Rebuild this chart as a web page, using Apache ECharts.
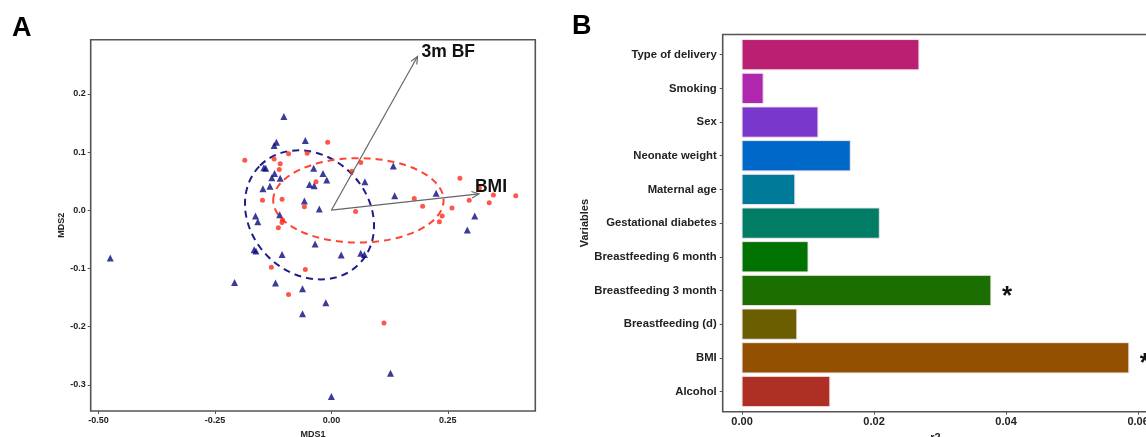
<!DOCTYPE html>
<html>
<head>
<meta charset="utf-8">
<script src="https://cdn.jsdelivr.net/npm/echarts@6/dist/echarts.min.js"></script>
<style>
  html, body { margin: 0; padding: 0; background: #fff; }
  #chart { width: 1146px; height: 437px; }
</style>
</head>
<body>
<div id="chart"></div>
<script>
// ---- Panel A: MDS ordination of samples ----
const groupTriangle = [
  [-0.475, -0.082], [-0.102, 0.161], [-0.056, 0.120], [-0.118, 0.117], [-0.123, 0.111],
  [-0.141, 0.072], [-0.145, 0.073], [-0.122, 0.063], [-0.128, 0.056], [-0.110, 0.055],
  [-0.147, 0.037], [-0.132, 0.041], [-0.038, 0.072], [-0.018, 0.063], [-0.010, 0.052],
  [-0.047, 0.044], [-0.037, 0.042], [-0.058, 0.016], [-0.026, 0.002], [0.072, 0.049],
  [0.133, 0.076], [0.136, 0.025], [0.225, 0.029], [0.308, -0.010], [0.292, -0.034],
  [-0.163, -0.010], [-0.158, -0.020], [-0.111, -0.008], [-0.166, -0.068], [-0.162, -0.070],
  [-0.106, -0.076], [-0.035, -0.058], [0.021, -0.077], [0.063, -0.074], [0.071, -0.076],
  [-0.208, -0.124], [-0.120, -0.125], [-0.062, -0.135], [-0.012, -0.159], [-0.062, -0.178],
  [0.127, -0.280], [0.000, -0.320]
];
const groupCircle = [
  [-0.186, 0.086], [-0.123, 0.088], [-0.092, 0.097], [-0.052, 0.098], [-0.008, 0.117],
  [-0.110, 0.080], [-0.112, 0.070], [0.063, 0.082], [0.044, 0.067], [-0.033, 0.049],
  [-0.148, 0.017], [-0.106, 0.019], [-0.058, 0.006], [0.052, -0.002], [-0.105, -0.017],
  [-0.106, -0.021], [-0.114, -0.030], [-0.129, -0.098], [-0.056, -0.102], [-0.092, -0.145],
  [0.113, -0.194], [0.178, 0.020], [0.196, 0.007], [0.238, -0.010], [0.232, -0.020],
  [0.259, 0.004], [0.276, 0.055], [0.296, 0.017], [0.318, 0.038], [0.339, 0.013],
  [0.348, 0.026], [0.396, 0.025]
];
// confidence ellipses: centre, semi-axes (data units), tilt in degrees
const ellipseCenters = [[-0.047, -0.008], [0.058, 0.017]];
const ellipseRadii = [[0.150, 0.101], [0.183, 0.0725]];
const ellipseTilt = [-45, 0];
// fitted environmental vectors
const vectorNames = ['3m BF', 'BMI'];
const vectorEnds = [[0.185, 0.264], [0.317, 0.028]];
const mdsTicksX = [-0.5, -0.25, 0, 0.25];
const mdsTicksY = [-0.3, -0.2, -0.1, 0, 0.1, 0.2];

// ---- Panel B: variance explained by each variable ----
const variables = [
  'Type of delivery', 'Smoking', 'Sex', 'Neonate weight', 'Maternal age',
  'Gestational diabetes', 'Breastfeeding 6 month', 'Breastfeeding 3 month',
  'Breastfeeding (d)', 'BMI', 'Alcohol'
];
const r2Values = [0.0268, 0.0032, 0.0115, 0.0164, 0.0080, 0.0208, 0.0100, 0.0377, 0.0083, 0.0586, 0.0133];
const significant = [false, false, false, false, false, false, false, true, false, true, false];
const r2Ticks = [0, 0.02, 0.04, 0.06];

// styling
const barColors = ['#BA1F72', '#AF27AF', '#7937CB', '#0068C8', '#007A99', '#007D64',
                   '#007300', '#1B6E00', '#6A5E00', '#924F00', '#AE3025'];
const ellipseColors = ['#1E1E8A', '#FF4433'];
const FONT = '"Liberation Sans", Arial, sans-serif';
const labelOffsets = [[4, -4], [-4, -7]];

const chart = echarts.init(document.getElementById('chart'), null, { renderer: 'canvas' });

const tickLabel = (size) => ({ fontFamily: FONT, fontWeight: 'bold', fontSize: size, color: '#222' });
const hiddenLine = { show: false, onZero: false };

chart.setOption({
  animation: false,
  backgroundColor: '#fff',
  graphic: [
    { type: 'text', left: 12, top: 15, style: { text: 'A', font: 'bold 27px ' + FONT, fill: '#000' } },
    { type: 'text', left: 572, top: 13, style: { text: 'B', font: 'bold 27px ' + FONT, fill: '#000' } }
  ],
  grid: [
    { left: 90.7, top: 39.7, width: 444.6, height: 371.3, show: true, outerBoundsMode: 'none',
      borderColor: '#555', borderWidth: 1.6, backgroundColor: '#fff' },
    { left: 722.7, top: 34.5, width: 425.3, height: 377.2, show: true, outerBoundsMode: 'none',
      borderColor: '#555', borderWidth: 1.6, backgroundColor: '#fff' }
  ],
  xAxis: [
    { type: 'value', gridIndex: 0, min: -0.517, max: 0.438,
      name: 'MDS1', nameLocation: 'middle', nameGap: 15,
      nameTextStyle: tickLabel(9),
      axisLine: hiddenLine, splitLine: { show: false },
      axisTick: { show: true, length: 3, customValues: mdsTicksX, lineStyle: { color: '#555' } },
      axisLabel: { customValues: mdsTicksX, margin: 5, ...tickLabel(9), formatter: v => v.toFixed(2) } },
    { type: 'value', gridIndex: 1, min: -0.00293, max: 0.0615,
      name: 'r2', nameLocation: 'middle', nameGap: 19,
      nameTextStyle: tickLabel(11),
      axisLine: hiddenLine, splitLine: { show: false },
      axisTick: { show: true, length: 3, customValues: r2Ticks, lineStyle: { color: '#555' } },
      axisLabel: { customValues: r2Ticks, margin: 5, ...tickLabel(11), formatter: v => v.toFixed(2) } }
  ],
  yAxis: [
    { type: 'value', gridIndex: 0, min: -0.345, max: 0.293,
      name: 'MDS2', nameLocation: 'middle', nameGap: 23, nameRotate: 90,
      nameTextStyle: tickLabel(9),
      axisLine: hiddenLine, splitLine: { show: false },
      axisTick: { show: true, length: 3, customValues: mdsTicksY, lineStyle: { color: '#555' } },
      axisLabel: { customValues: mdsTicksY, margin: 5, ...tickLabel(9), formatter: v => v.toFixed(1) } },
    { type: 'value', gridIndex: 1, min: 0.4, max: 11.6, inverse: true,
      name: 'Variables', nameLocation: 'middle', nameGap: 132, nameRotate: 90,
      nameTextStyle: tickLabel(11),
      axisLine: hiddenLine, splitLine: { show: false },
      axisTick: { show: true, length: 3, customValues: variables.map((_, i) => i + 1), lineStyle: { color: '#555' } },
      axisLabel: { customValues: variables.map((_, i) => i + 1), margin: 6, ...tickLabel(11.3),
                   formatter: v => variables[Math.round(v) - 1] } }
  ],
  series: [
    // dashed group ellipses
    {
      type: 'custom', xAxisIndex: 0, yAxisIndex: 0, z: 2,
      data: ellipseCenters.map((c, i) => [c[0], c[1], ellipseRadii[i][0], ellipseRadii[i][1], ellipseTilt[i]]),
      encode: { x: 0, y: 1 },
      renderItem: (params, api) => {
        const c = api.coord([api.value(0), api.value(1)]);
        const rx = api.size([api.value(2), 0])[0];
        const ry = api.size([0, api.value(3)])[1];
        return {
          type: 'ellipse',
          x: c[0], y: c[1],
          rotation: api.value(4) * Math.PI / 180,
          shape: { cx: 0, cy: 0, rx: rx, ry: ry },
          style: { fill: 'none', stroke: ellipseColors[params.dataIndex], lineWidth: 2, lineDash: [7, 5] }
        };
      }
    },
    {
      type: 'scatter', xAxisIndex: 0, yAxisIndex: 0, z: 3,
      symbol: 'triangle', symbolSize: 7,
      itemStyle: { color: '#0A0A7E' },
      data: groupTriangle
    },
    {
      type: 'scatter', xAxisIndex: 0, yAxisIndex: 0, z: 3,
      symbol: 'circle', symbolSize: 5,
      itemStyle: { color: '#FF2C1C' },
      data: groupCircle
    },
    // vectors from the origin with open arrow heads
    {
      type: 'custom', xAxisIndex: 0, yAxisIndex: 0, z: 4,
      data: vectorEnds,
      encode: { x: 0, y: 1 },
      renderItem: (params, api) => {
        const o = api.coord([0, 0]);
        const t = api.coord([api.value(0), api.value(1)]);
        const a = Math.atan2(t[1] - o[1], t[0] - o[0]);
        const L = 8, w = 0.42;
        const off = labelOffsets[params.dataIndex];
        const stroke = { stroke: '#666', lineWidth: 1.2, fill: 'none' };
        return {
          type: 'group',
          children: [
            { type: 'line', shape: { x1: o[0], y1: o[1], x2: t[0], y2: t[1] }, style: stroke },
            { type: 'polyline', shape: { points: [
                [t[0] - L * Math.cos(a - w), t[1] - L * Math.sin(a - w)],
                [t[0], t[1]],
                [t[0] - L * Math.cos(a + w), t[1] - L * Math.sin(a + w)]
              ] }, style: stroke },
            { type: 'text', style: {
                text: vectorNames[params.dataIndex], x: t[0] + off[0], y: t[1] + off[1],
                align: 'left', verticalAlign: 'middle',
                font: 'bold 17.5px ' + FONT, fill: '#111' } }
          ]
        };
      }
    },
    // horizontal bars with significance marks
    {
      type: 'custom', xAxisIndex: 1, yAxisIndex: 1, z: 3,
      data: r2Values.map((v, i) => [v, i + 1]),
      encode: { x: 0, y: 1 },
      renderItem: (params, api) => {
        const v = api.value(0), i = api.value(1);
        const p0 = api.coord([0, i]);
        const p1 = api.coord([v, i]);
        const h = api.size([0, 0.9])[1];
        const children = [{
          type: 'rect',
          shape: { x: p0[0], y: p0[1] - h / 2, width: p1[0] - p0[0], height: h },
          style: { fill: barColors[params.dataIndex], stroke: '#F3E6EC', lineWidth: 1 }
        }];
        if (significant[params.dataIndex]) {
          children.push({ type: 'text', style: {
            text: '*', x: p1[0] + 11, y: p1[1] + 6, align: 'left', verticalAlign: 'middle',
            font: 'bold 26px ' + FONT, fill: '#111' } });
        }
        return { type: 'group', children: children };
      }
    }
  ]
});
</script>
</body>
</html>
